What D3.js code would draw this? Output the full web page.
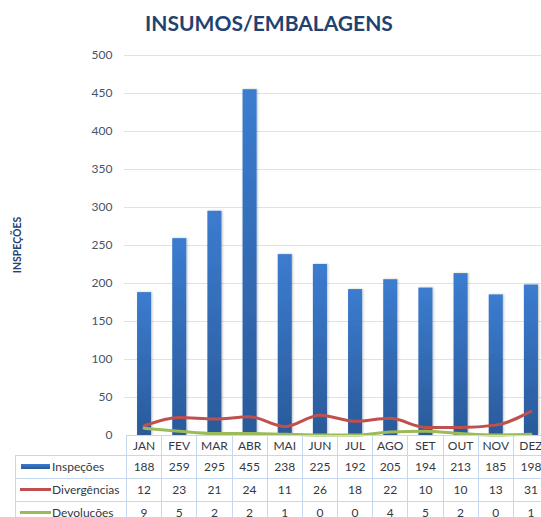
<!DOCTYPE html>
<html>
<head>
<meta charset="utf-8">
<script src="https://cdn.jsdelivr.net/npm/d3@7"></script>
<style>
  body { margin: 0; background: #fff; }
  svg { display: block; font-family: Lato, "Open Sans", sans-serif; }
</style>
</head>
<body>
<div id="chart"></div>
<script>
// chart data
const months = ["JAN", "FEV", "MAR", "ABR", "MAI", "JUN", "JUL", "AGO", "SET", "OUT", "NOV", "DEZ"];
const inspecoes = [188, 259, 295, 455, 238, 225, 192, 205, 194, 213, 185, 198];
const divergencias = [12, 23, 21, 24, 11, 26, 18, 22, 10, 10, 13, 31];
const devolucoes = [9, 5, 2, 2, 1, 0, 0, 4, 5, 2, 0, 1];
const yTicks = [0, 50, 100, 150, 200, 250, 300, 350, 400, 450, 500];

const series = [
  { name: "Inspeções", values: inspecoes, type: "bar", color: "#2f64ad" },
  { name: "Divergências", values: divergencias, type: "line", color: "#c0504d" },
  { name: "Devoluções", values: devolucoes, type: "line", color: "#9bbb59" }
];

const W = 541, H = 517;
const plotLeft = 126.5, plotRight = 548.5, plotTop = 55, plotBottom = 435;
const tableLeft = 15.5;
const rowH = [20, 23, 23, 21]; // header + 3 rows

const svg = d3.select("#chart").append("svg")
    .attr("width", W)
    .attr("height", H);

const defs = svg.append("defs");
const grad = defs.append("linearGradient")
    .attr("id", "barGrad")
    .attr("x1", 0).attr("y1", 0).attr("x2", 0).attr("y2", 1);
grad.append("stop").attr("offset", "0%").attr("stop-color", "#3b7cd0");
grad.append("stop").attr("offset", "100%").attr("stop-color", "#2a5a9a");

const shadow = defs.append("filter").attr("id", "shadow")
    .attr("x", "-30%").attr("y", "-5%").attr("width", "160%").attr("height", "110%");
shadow.append("feDropShadow")
    .attr("dx", 1).attr("dy", 0).attr("stdDeviation", 1)
    .attr("flood-color", "#000").attr("flood-opacity", 0.25);

const x = d3.scaleBand()
    .domain(months)
    .range([plotLeft, plotRight])
    .paddingInner(0.6)
    .paddingOuter(0.3);

const xc = d => x(d) + x.bandwidth() / 2;
const step = (plotRight - plotLeft) / months.length;

const y = d3.scaleLinear()
    .domain([0, 500])
    .range([plotBottom, plotTop]);

// title
svg.append("text")
    .attr("x", 269)
    .attr("y", 31)
    .attr("text-anchor", "middle")
    .attr("font-size", 21)
    .attr("font-weight", "bold")
    .attr("fill", "#1f4371")
    .text("INSUMOS/EMBALAGENS");

// y axis label
svg.append("text")
    .attr("transform", `translate(21,${(plotTop + plotBottom) / 2}) rotate(-90)`)
    .attr("text-anchor", "middle")
    .attr("font-size", 10.5)
    .attr("font-weight", "bold")
    .attr("fill", "#1f4371")
    .text("INSPEÇÕES");

// gridlines + tick labels
const yAxis = d3.axisLeft(y)
    .tickValues(yTicks)
    .tickSize(-(W - plotLeft + 3))
    .tickPadding(11);

const gy = svg.append("g")
    .attr("transform", `translate(${plotLeft - 3},0)`)
    .call(yAxis);
gy.select(".domain").remove();
gy.selectAll(".tick line")
    .attr("stroke", "#d9e4f3")
    .attr("stroke-width", 1)
    .attr("shape-rendering", "crispEdges")
    .filter(d => d === 0).remove();
gy.selectAll(".tick text")
    .attr("font-family", "Lato, sans-serif")
    .attr("font-size", 12)
    .attr("fill", "#44546a");

// bars
svg.append("g").selectAll("rect")
    .data(inspecoes)
    .join("rect")
    .attr("x", (d, i) => x(months[i]))
    .attr("y", d => y(d))
    .attr("width", x.bandwidth())
    .attr("height", d => plotBottom - y(d))
    .attr("fill", "url(#barGrad)")
    .attr("filter", "url(#shadow)");

// lines
const line = d3.line()
    .x((d, i) => xc(months[i]))
    .y(d => y(d))
    .curve(d3.curveMonotoneX);

series.filter(s => s.type === "line").forEach(s => {
  svg.append("path")
      .datum(s.values)
      .attr("d", line)
      .attr("fill", "none")
      .attr("stroke", s.color)
      .attr("stroke-width", 3)
      .attr("stroke-linejoin", "round")
      .attr("stroke-linecap", "round");
});

// data table
const tbl = svg.append("g");
const lineColor = "#c6d8ef";
const rowTops = [plotBottom];
rowH.forEach(h => rowTops.push(rowTops[rowTops.length - 1] + h));

// horizontal lines
rowTops.forEach((ry, i) => {
  tbl.append("line")
      .attr("x1", i === 0 ? plotLeft : tableLeft)
      .attr("x2", W)
      .attr("y1", ry).attr("y2", ry)
      .attr("stroke", lineColor)
      .attr("shape-rendering", "crispEdges");
});

// vertical lines
tbl.append("line")
    .attr("x1", tableLeft).attr("x2", tableLeft)
    .attr("y1", rowTops[1]).attr("y2", H)
    .attr("stroke", lineColor)
    .attr("shape-rendering", "crispEdges");
d3.range(months.length + 1).forEach(i => {
  const vx = plotLeft + i * step;
  tbl.append("line")
      .attr("x1", vx).attr("x2", vx)
      .attr("y1", plotBottom).attr("y2", H)
      .attr("stroke", lineColor)
      .attr("shape-rendering", "crispEdges");
});

const textColor = "#333844";

// header
tbl.selectAll("text.hdr")
    .data(months)
    .join("text")
    .attr("class", "hdr")
    .attr("x", d => xc(d))
    .attr("y", rowTops[0] + 15)
    .attr("text-anchor", "middle")
    .attr("font-size", 12)
    .attr("fill", textColor)
    .text(d => d);

// rows
series.forEach((s, r) => {
  const top = rowTops[r + 1];
  const mid = top + 11.5;
  if (s.type === "bar") {
    tbl.append("rect")
        .attr("x", 21).attr("y", mid - 2.5)
        .attr("width", 29).attr("height", 5)
        .attr("fill", "url(#barGrad)");
  } else {
    tbl.append("line")
        .attr("x1", 20).attr("x2", 51)
        .attr("y1", mid).attr("y2", mid)
        .attr("stroke", s.color)
        .attr("stroke-width", 3);
  }
  tbl.append("text")
      .attr("x", 52)
      .attr("y", mid + 4)
      .attr("font-size", 12)
      .attr("fill", textColor)
      .text(s.name);
  tbl.selectAll(null)
      .data(s.values)
      .join("text")
      .attr("x", (d, i) => xc(months[i]))
      .attr("y", mid + 4)
      .attr("text-anchor", "middle")
      .attr("font-size", 12)
      .attr("fill", textColor)
      .text(d => d);
});
</script>
</body>
</html>
